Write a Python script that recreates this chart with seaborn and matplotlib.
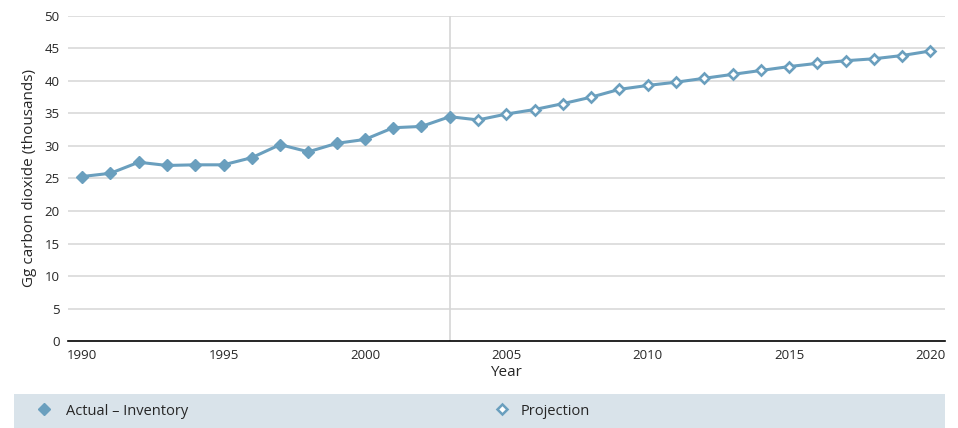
import pandas as pd
import matplotlib.pyplot as plt
import seaborn as sns

actual_years = list(range(1990, 2004))
actual_values = [25.3, 25.8, 27.5, 27.0, 27.1, 27.1, 28.2, 30.2, 29.1, 30.4, 31.0, 32.8, 33.0, 34.5]

proj_years = list(range(2004, 2021))
proj_values = [34.0, 34.9, 35.6, 36.5, 37.5, 38.7, 39.3, 39.8, 40.4, 41.0, 41.6, 42.2,
               42.7, 43.1, 43.4, 43.9, 44.6]

x_ticks = [1990, 1995, 2000, 2005, 2010, 2015, 2020]
y_ticks = [0, 5, 10, 15, 20, 25, 30, 35, 40, 45, 50]

col = '#6a9fbe'

sns.set_style('white')
plt.rcParams['font.family'] = ['Open Sans', 'DejaVu Sans']

df_act = pd.DataFrame({'year': actual_years, 'value': actual_values})
# projection line starts at the last inventory year so the line is continuous
df_proj = pd.DataFrame({'year': [actual_years[-1]] + proj_years,
                        'value': [actual_values[-1]] + proj_values})

fig = plt.figure(figsize=(9.58, 4.28), dpi=100)
ax = fig.add_axes([0.071, 0.203, 0.915, 0.760])

for y in y_ticks[1:]:
    ax.axhline(y, color='#d9d9d9', lw=1.2, zorder=0)
ax.axvline(2003, color='#d6d6d6', lw=1.2, zorder=0)

sns.lineplot(data=df_proj, x='year', y='value', ax=ax, color=col, lw=2.2, zorder=2)
sns.lineplot(data=df_act, x='year', y='value', ax=ax, color=col, lw=2.2, zorder=2)
ax.plot(proj_years, proj_values, ls='none', marker='D', ms=5, mfc='white',
        mec=col, mew=1.9, zorder=3)
ax.plot(actual_years, actual_values, ls='none', marker='D', ms=6.2, mfc=col,
        mec=col, mew=1, zorder=4)

ax.set_xlim(1989.5, 2020.5)
ax.set_ylim(0, 50)
ax.set_xticks(range(1990, 2021), minor=True)
ax.set_xticks(x_ticks)
ax.set_yticks(y_ticks)
ax.tick_params(axis='x', which='both', direction='in', length=6, width=1.2, color='black',
               labelsize=9.5, pad=6)
ax.tick_params(axis='y', length=0, labelsize=9.5, pad=6)
for s in ['top', 'right', 'left']:
    ax.spines[s].set_visible(False)
ax.spines['bottom'].set_color('black')
ax.spines['bottom'].set_linewidth(1.2)
ax.set_xlabel('Year', fontsize=11, labelpad=2)
ax.set_ylabel('Gg carbon dioxide (thousands)', fontsize=11, labelpad=5)

lax = fig.add_axes([0.0146, 0.0, 0.9718, 0.079])
lax.set_facecolor('#d9e3ea')
lax.set_xticks([])
lax.set_yticks([])
for s in lax.spines.values():
    s.set_visible(False)
h1 = plt.Line2D([], [], ls='none', marker='D', ms=6, mfc=col, mec=col)
h2 = plt.Line2D([], [], ls='none', marker='D', ms=5, mfc='white', mec=col, mew=1.8)
leg1 = lax.legend([h1], ['Actual – Inventory'], loc='center left',
                  bbox_to_anchor=(0.0245, 0.5), frameon=False, fontsize=10.5,
                  handlelength=1.0, handletextpad=1.0, borderaxespad=0, borderpad=0)
lax.add_artist(leg1)
lax.legend([h2], ['Projection'], loc='center left',
           bbox_to_anchor=(0.5165, 0.5), frameon=False, fontsize=10.5,
           handlelength=1.0, handletextpad=0.8, borderaxespad=0, borderpad=0)

fig.savefig('out.png', dpi=100)
